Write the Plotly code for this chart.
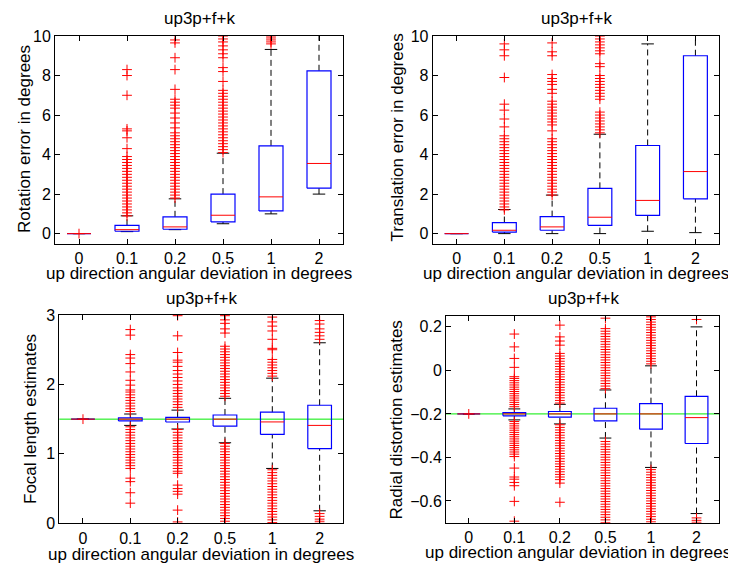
import plotly.graph_objects as go

# The page body has an 8px margin, so the figure is made 8px smaller and all
# reference-pixel positions are shifted by that offset.
WIN_W, WIN_H = 736, 563
OFF = 8
W, H = WIN_W - OFF, WIN_H - OFF

categories = ["0", "0.1", "0.2", "0.5", "1", "2"]
xpos = [1, 2, 3, 4, 5, 6]

# ---------------- Rotation error ----------------
rot_q1 = [0, 0.12, 0.22, 0.59, 1.15, 2.3]
rot_med = [0, 0.2, 0.34, 0.93, 1.86, 3.55]
rot_q3 = [0, 0.42, 0.85, 2.0, 4.44, 8.24]
rot_lo = [0, 0.1, 0.2, 0.5, 1.0, 2.0]
rot_hi = [0, 0.9, 1.76, 4.07, 9.32, 14.0]
rot_out = [
    [0.0],
    [0.9, 1.05, 1.2, 1.35, 1.5, 1.65, 1.8, 1.95, 2.1, 2.25, 2.4, 2.55, 2.7, 2.85, 3.0, 3.15,
     3.3, 3.45, 3.6, 3.75, 3.9, 4.3, 4.85, 5.2, 5.3, 7.0, 8.0, 8.3],
    [1.8, 1.95, 2.1, 2.25, 2.4, 2.55, 2.7, 2.85, 3.0, 3.15, 3.3, 3.45, 3.6, 3.75, 3.9, 4.05,
     4.2, 4.35, 4.5, 4.65, 4.8, 4.95, 5.1, 5.35, 5.6, 5.85, 6.1, 6.35, 6.5, 6.65, 6.8, 7.3,
     8.3, 8.9, 9.65, 9.8],
    [4.1, 4.25, 4.4, 4.55, 4.7, 4.85, 5.0, 5.15, 5.3, 5.45, 5.6, 5.75, 5.9, 6.05, 6.2, 6.35,
     6.5, 6.65, 6.8, 6.95, 7.1, 7.25, 7.7, 8.2, 8.4, 8.9, 9.1, 9.3, 9.5, 9.7, 9.85, 10.0],
    [9.6, 9.7, 9.8, 9.9, 10.0],
    [],
]

# ---------------- Translation error ----------------
tra_q1 = [0, 0.08, 0.17, 0.42, 0.92, 1.76]
tra_med = [0, 0.17, 0.34, 0.83, 1.68, 3.14]
tra_q3 = [0, 0.56, 0.86, 2.29, 4.46, 9.0]
tra_lo = [0, 0, 0, 0, 0.12, 0.05]
tra_hi = [0, 1.22, 1.95, 5.03, 9.6, 15.0]
tra_out = [
    [],
    [1.2, 1.35, 1.5, 1.65, 1.8, 1.95, 2.1, 2.25, 2.4, 2.55, 2.7, 2.85, 3.0, 3.15, 3.3, 3.45,
     3.6, 3.75, 3.9, 4.05, 4.2, 4.35, 4.5, 4.65, 4.8, 4.95, 5.4, 5.8, 6.25, 6.55, 7.9, 9.0,
     9.3, 9.6],
    [1.95, 2.1, 2.25, 2.4, 2.55, 2.7, 2.85, 3.0, 3.15, 3.3, 3.45, 3.6, 3.75, 3.9, 4.05, 4.2,
     4.35, 4.5, 4.65, 4.8, 5.2, 5.5, 5.65, 5.8, 5.95, 6.1, 6.25, 6.4, 6.55, 6.7, 7.1, 7.3,
     7.55, 7.7, 7.85, 8.05, 9.0, 9.2, 9.65],
    [5.1, 5.25, 5.4, 5.55, 5.7, 5.85, 6.0, 6.15, 6.8, 6.95, 7.1, 7.25, 7.4, 7.55, 7.7, 7.85,
     8.0, 8.45, 8.6, 9.1, 9.25, 9.4, 9.55, 9.7, 9.85, 10.0],
    [],
    [],
]

# ---------------- Focal length ----------------
foc_true = 1.5
foc_q1 = [1.5, 1.475, 1.459, 1.40, 1.28, 1.076]
foc_med = [1.5, 1.5, 1.5, 1.5, 1.46, 1.41]
foc_q3 = [1.5, 1.517, 1.527, 1.56, 1.60, 1.70]
foc_lo = [1.5, 1.41, 1.358, 1.16, 0.79, 0.18]
foc_hi = [1.5, 1.574, 1.63, 1.80, 2.09, 2.60]
foc_out = [
    [1.5],
    [1.61, 1.65, 1.69, 1.73, 1.77, 1.81, 1.85, 1.89, 1.92, 1.99, 2.06, 2.18, 2.3, 2.38, 2.43,
     2.71, 2.79,
     1.39, 1.35, 1.31, 1.27, 1.23, 1.19, 1.15, 1.11, 1.07, 1.03, 0.99, 0.95, 0.91, 0.87, 0.83,
     0.79, 0.65, 0.6, 0.44, 0.29],
    [1.67, 1.71, 1.75, 1.79, 1.83, 1.87, 1.91, 1.95, 2.0, 2.05, 2.1, 2.15, 2.2, 2.26, 2.32,
     2.35, 2.46, 2.7, 2.99,
     1.35, 1.31, 1.27, 1.23, 1.19, 1.15, 1.11, 1.07, 1.03, 0.99, 0.95, 0.91, 0.87, 0.83, 0.79,
     0.75, 0.72, 0.55, 0.5, 0.46, 0.42, 0.19, 0.02],
    [1.83, 1.87, 1.91, 1.95, 1.99, 2.03, 2.07, 2.11, 2.15, 2.19, 2.23, 2.27, 2.31, 2.35, 2.39,
     2.43, 2.47, 2.51, 2.55, 2.74, 2.8, 2.88, 2.93, 2.99,
     1.15, 1.11, 1.07, 1.03, 0.99, 0.95, 0.91, 0.87, 0.83, 0.79, 0.75, 0.71, 0.67, 0.63, 0.59,
     0.55, 0.51, 0.47, 0.43, 0.39, 0.35, 0.31, 0.27, 0.23, 0.19, 0.15, 0.11, 0.07, 0.03],
    [2.12, 2.16, 2.2, 2.24, 2.28, 2.32, 2.36, 2.5, 2.52, 2.65, 2.77, 2.84, 2.9, 2.97,
     0.77, 0.73, 0.69, 0.65, 0.61, 0.57, 0.53, 0.49, 0.45, 0.41, 0.37, 0.33, 0.29, 0.25, 0.21,
     0.17, 0.13, 0.09, 0.05, 0.01],
    [2.65, 2.7, 2.75, 2.8, 2.87, 2.92, 0.14, 0.1, 0.06, 0.03, 0.0],
]

# ---------------- Radial distortion ----------------
rad_true = -0.2
rad_q1 = [-0.2, -0.209, -0.215, -0.232, -0.27, -0.336]
rad_med = [-0.2, -0.2, -0.2, -0.2, -0.2, -0.217]
rad_q3 = [-0.2, -0.194, -0.189, -0.174, -0.153, -0.119]
rad_lo = [-0.2, -0.2275, -0.246, -0.311, -0.446, -0.658]
rad_hi = [-0.2, -0.177, -0.156, -0.09, 0.021, 0.2]
rad_out = [
    [-0.2],
    [-0.167, -0.157, -0.147, -0.137, -0.127, -0.117, -0.107, -0.097, -0.087, -0.077, -0.067,
     -0.057, -0.047, -0.037, -0.029, 0.014, 0.055, 0.108, 0.167,
     -0.235, -0.245, -0.255, -0.265, -0.275, -0.285, -0.295, -0.305, -0.315, -0.325, -0.335,
     -0.345, -0.355, -0.365, -0.375, -0.385, -0.396, -0.449, -0.49, -0.5, -0.515, -0.53,
     -0.602, -0.693],
    [-0.15, -0.138, -0.126, -0.114, -0.102, -0.09, -0.078, -0.066, -0.054, -0.042, -0.03,
     -0.018, -0.006, 0.006, 0.018, 0.03, 0.042, 0.054, 0.066, 0.078, 0.116, 0.135, 0.154, 0.208,
     -0.25, -0.262, -0.274, -0.286, -0.298, -0.31, -0.322, -0.334, -0.346, -0.358, -0.37,
     -0.382, -0.394, -0.406, -0.418, -0.43, -0.442, -0.454, -0.466, -0.478, -0.49, -0.502,
     -0.518, -0.606],
    [-0.084, -0.072, -0.06, -0.048, -0.036, -0.024, -0.012, 0.0, 0.012, 0.024, 0.036, 0.048,
     0.06, 0.072, 0.084, 0.096, 0.108, 0.12, 0.132, 0.144, 0.156, 0.168, 0.18, 0.192, 0.24,
     -0.327, -0.339, -0.351, -0.363, -0.375, -0.387, -0.399, -0.411, -0.423, -0.435, -0.447,
     -0.459, -0.471, -0.483, -0.495, -0.507, -0.519, -0.531, -0.543, -0.555, -0.567, -0.579,
     -0.591, -0.603, -0.615, -0.627, -0.639, -0.651, -0.663, -0.675, -0.687, -0.699],
    [0.03, 0.042, 0.054, 0.066, 0.078, 0.09, 0.102, 0.114, 0.126, 0.138, 0.15, 0.162, 0.174,
     0.186, 0.198, 0.21, 0.222, 0.234, 0.246,
     -0.456, -0.468, -0.48, -0.492, -0.504, -0.516, -0.528, -0.54, -0.552, -0.564, -0.576,
     -0.588, -0.6, -0.612, -0.624, -0.636, -0.648, -0.66, -0.672, -0.684, -0.696],
    [0.234, 0.253, -0.678, -0.689, -0.698],
]

title_text = "up3p+f+k"
xlabel_text = "up direction angular deviation in degrees"
ylabels = ["Rotation error in degrees", "Translation error in degrees",
           "Focal length estimates", "Radial distortion estimates"]

# ---------------- styling ----------------
BOX_HW = 0.25
CAP_HW = 0.13
BLUE = "rgb(0,0,255)"
RED = "rgb(255,0,0)"
GREEN = "rgb(0,235,0)"
FONT = "Liberation Sans, Arial, sans-serif"
LABEL_SIZE = 17
TICK_SIZE = 16


def px_x(p):
    return (p - OFF) / W


def px_y(p):
    return 1 - (p - OFF) / H


panels = [
    dict(ax="", q1=rot_q1, med=rot_med, q3=rot_q3, lo=rot_lo, hi=rot_hi, out=rot_out, ref=None,
         xd=[55, 343], yd=[36, 243.5], yr=[-0.5, 10], yt=[0, 2, 4, 6, 8, 10],
         title=(199, 18.5), xlab=(199, 273), ylab=(24, 139)),
    dict(ax="2", q1=tra_q1, med=tra_med, q3=tra_q3, lo=tra_lo, hi=tra_hi, out=tra_out, ref=None,
         xd=[432.7, 719.3], yd=[36, 243.5], yr=[-0.5, 10], yt=[0, 2, 4, 6, 8, 10],
         title=(576, 18.5), xlab=(576, 273), ylab=(396.5, 138)),
    dict(ax="3", q1=foc_q1, med=foc_med, q3=foc_q3, lo=foc_lo, hi=foc_hi, out=foc_out, ref=foc_true,
         xd=[59.3, 343.3], yd=[315, 523.3], yr=[0, 3], yt=[0, 1, 2, 3],
         title=(201, 298.5), xlab=(201, 554), ylab=(30, 419)),
    dict(ax="4", q1=rad_q1, med=rad_med, q3=rad_q3, lo=rad_lo, hi=rad_hi, out=rad_out, ref=rad_true,
         xd=[446, 719.3], yd=[316, 522.7], yr=[-0.7, 0.25], yt=[-0.6, -0.4, -0.2, 0, 0.2],
         title=(583, 298.5), xlab=(578, 552.5), ylab=(395.5, 420)),
]

fig = go.Figure()
annotations = []
shapes = []
layout_axes = {}

for p in panels:
    xa = "x" + p["ax"]
    ya = "y" + p["ax"]
    wx, wy, cx, cy, bx, by, mx, my = [], [], [], [], [], [], [], []
    ox, oy = [], []
    for i, xc in enumerate(xpos):
        q1, md, q3, lo, hi = p["q1"][i], p["med"][i], p["q3"][i], p["lo"][i], p["hi"][i]
        # whiskers
        wx += [xc, xc, None, xc, xc, None]
        wy += [q3, hi, None, lo, q1, None]
        # caps
        cx += [xc - CAP_HW, xc + CAP_HW, None, xc - CAP_HW, xc + CAP_HW, None]
        cy += [hi, hi, None, lo, lo, None]
        # box
        bx += [xc - BOX_HW, xc + BOX_HW, xc + BOX_HW, xc - BOX_HW, xc - BOX_HW, None]
        by += [q1, q1, q3, q3, q1, None]
        # median
        mx += [xc - BOX_HW, xc + BOX_HW, None]
        my += [md, md, None]
        for v in p["out"][i]:
            ox.append(xc)
            oy.append(v)

    common = dict(xaxis=xa, yaxis=ya, hoverinfo="skip", showlegend=False)
    fig.add_trace(go.Scatter(x=wx, y=wy, mode="lines",
                             line=dict(color="black", width=1, dash="6px,4px"), **common))
    fig.add_trace(go.Scatter(x=cx, y=cy, mode="lines",
                             line=dict(color="black", width=1), **common))
    fig.add_trace(go.Scatter(x=bx, y=by, mode="lines",
                             line=dict(color=BLUE, width=1.2), **common))
    fig.add_trace(go.Scatter(x=mx, y=my, mode="lines",
                             line=dict(color=RED, width=1), **common))
    fig.add_trace(go.Scatter(x=ox, y=oy, mode="markers",
                             marker=dict(symbol="cross-thin", size=7,
                                         line=dict(color=RED, width=1)), **common))

    if p["ref"] is not None:
        shapes.append(dict(type="line", xref=xa + " domain", yref=ya, x0=0, x1=1,
                           y0=p["ref"], y1=p["ref"], layer="below",
                           line=dict(color=GREEN, width=1)))

    axis_common = dict(showline=True, linecolor="black", linewidth=1, mirror="ticks",
                       ticks="inside", ticklen=5, tickwidth=1, tickcolor="black",
                       showgrid=False, zeroline=False, automargin=False,
                       tickfont=dict(family=FONT, size=TICK_SIZE, color="black"))
    xkey = "xaxis" + p["ax"]
    ykey = "yaxis" + p["ax"]
    layout_axes[xkey] = dict(axis_common, domain=[px_x(p["xd"][0]), px_x(p["xd"][1])],
                             anchor=ya, range=[0.5, 6.5], tickmode="array",
                             tickvals=xpos, ticktext=categories)
    layout_axes[ykey] = dict(axis_common, domain=[px_y(p["yd"][1]), px_y(p["yd"][0])],
                             anchor=xa, range=p["yr"], tickmode="array", tickvals=p["yt"])

    annotations.append(dict(text=title_text, xref="paper", yref="paper",
                            x=px_x(p["title"][0]), y=px_y(p["title"][1]),
                            xanchor="center", yanchor="middle", showarrow=False,
                            font=dict(family=FONT, size=LABEL_SIZE, color="black")))
    annotations.append(dict(text=xlabel_text, xref="paper", yref="paper",
                            x=px_x(p["xlab"][0]), y=px_y(p["xlab"][1]),
                            xanchor="center", yanchor="middle", showarrow=False,
                            font=dict(family=FONT, size=LABEL_SIZE, color="black")))

for k, p in enumerate(panels):
    annotations.append(dict(text=ylabels[k], xref="paper", yref="paper",
                            x=px_x(p["ylab"][0]), y=px_y(p["ylab"][1]), textangle=-90,
                            xanchor="center", yanchor="middle", showarrow=False,
                            font=dict(family=FONT, size=LABEL_SIZE, color="black")))

fig.update_layout(template="none", width=W, height=H, margin=dict(l=0, r=0, t=0, b=0),
                  paper_bgcolor="white", plot_bgcolor="white", showlegend=False,
                  font=dict(family=FONT, size=LABEL_SIZE, color="black"),
                  annotations=annotations, shapes=shapes, **layout_axes)

fig.write_html("out.html")
